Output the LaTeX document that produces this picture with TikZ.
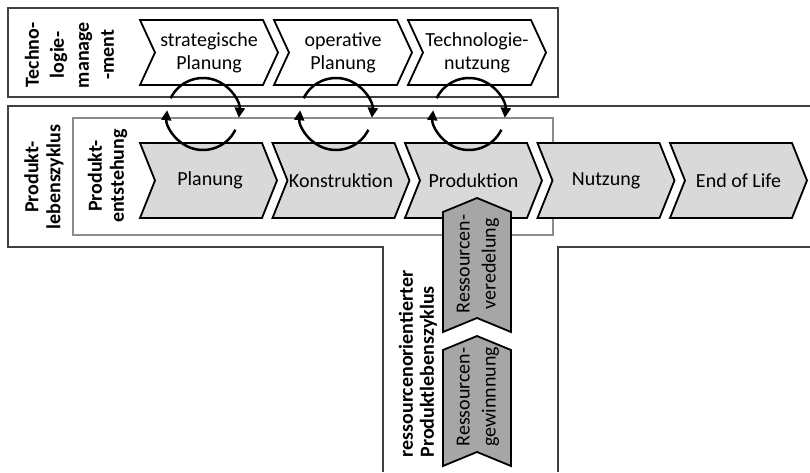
\documentclass[tikz,border=0pt]{standalone}
\usepackage{fontspec}
\setmainfont{Carlito}
\usetikzlibrary{arrows.meta}
\definecolor{boxdark}{HTML}{404040}
\definecolor{boxgray}{HTML}{8C8C8C}
\definecolor{chevlight}{HTML}{D9D9D9}
\definecolor{chevdark}{HTML}{A6A6A6}
\tikzset{
  frame/.style={draw=boxdark, line width=2pt},
  innerframe/.style={draw=boxgray, line width=2pt},
  chevw/.style={draw=black, fill=white, line width=1.8pt, line join=miter},
  chevl/.style={draw=black, fill=chevlight, line width=1.8pt, line join=miter},
  chevd/.style={draw=black, fill=chevdark, line width=1.8pt, line join=miter},
  lbl/.style={font=\fontsize{20}{23}\selectfont, align=center, inner sep=0pt},
  vlbl/.style={font=\fontsize{20}{26}\selectfont, align=center, inner sep=0pt, rotate=90},
  blbl/.style={font=\bfseries\fontsize{20}{22}\selectfont, align=center, inner sep=0pt, rotate=90},
  cyc/.style={line width=2.5pt, -{Triangle[length=10pt,width=10pt]}}
}
% horizontal chevron: style, left, top, bottom, width
\newcommand\hchev[5]{%
  \path[#1] (#2,#3) -- ({#2+#5-15},#3) -- ({#2+#5},{(#3+#4)/2}) -- ({#2+#5-15},#4)
    -- (#2,#4) -- ({#2+15},{(#3+#4)/2}) -- cycle;}
% vertical chevron pointing up: style, tipY, shoulderY, cornerY, notchY
\newcommand\vchev[5]{%
  \path[#1] (477,#2) -- (511,#3) -- (511,#4) -- (477,#5) -- (443,#4) -- (443,#3) -- cycle;}
\begin{document}
\begin{tikzpicture}[x=1pt,y=1pt]
\useasboundingbox (0,0) rectangle (810,472);
% frames
\draw[frame] (8,464) rectangle (558,375);
\draw[frame] (810,366) -- (8,366) -- (8,225) -- (383,225) -- (383,0);
\draw[frame] (558,0) -- (558,225) -- (810,225);
\draw[innerframe] (73,354) rectangle (553,237);
% top chevrons
\hchev{chevw}{140}{452}{387}{138}
\hchev{chevw}{274}{452}{387}{138}
\hchev{chevw}{408}{452}{387}{138}
\node[lbl] (sp) at (209,419.5) {strategische\\Planung};
\node[lbl] (op) at (343,419.5) {operative\\Planung};
\node[lbl] (tn) at (477,419.5) {Technologie-\\nutzung};
% bottom chevrons
\hchev{chevl}{140}{329}{254}{137}
\hchev{chevl}{272.5}{329}{254}{137}
\hchev{chevl}{405}{329}{254}{137}
\hchev{chevl}{537.5}{329}{254}{137}
\hchev{chevl}{670}{329}{254}{137}
\node[lbl] (pl) at (210,291.5) {Planung};
\node[lbl] (ko) at (341,291.5) {Konstruktion};
\node[lbl] (pr) at (473.5,291.5) {Produktion};
\node[lbl] (nu) at (606,291.5) {Nutzung};
\node[lbl] (eol) at (738.5,291.5) {End of Life};
% vertical chevrons
\vchev{chevd}{274}{260}{140}{154}
\vchev{chevd}{136}{122}{6}{20}
\node[vlbl] (rv) at (478,208) {Ressourcen-\\veredelung};
\node[vlbl] (rg) at (478,75) {Ressourcen-\\gewinnnung};
% side labels
\node[blbl, font=\bfseries\fontsize{20}{25}\selectfont] (tm) at (69.5,417) {Techno-\\logie-\\manage\\-ment};
\node[blbl] (plz) at (44,295) {Produkt-\\lebenszyklus};
\node[blbl] (pe) at (107.5,296) {Produkt-\\entstehung};
\node[blbl, align=left, font=\bfseries\fontsize{20}{21}\selectfont] (rpl) at (418,108) {ressourcenorientierter\\Produktlebenszyklus};
% cycle arrows
\coordinate (c1) at (203,358);
\coordinate (c2) at (336,358);
\coordinate (c3) at (469,358);
\foreach \c in {c1,c2,c3}{
  \draw[cyc] (\c) ++(154:36pt) arc[start angle=154, end angle=-6, radius=36pt];
  \draw[cyc] (\c) ++(-26:36pt) arc[start angle=-26, end angle=-186, radius=36pt];
}
\end{tikzpicture}
\end{document}
